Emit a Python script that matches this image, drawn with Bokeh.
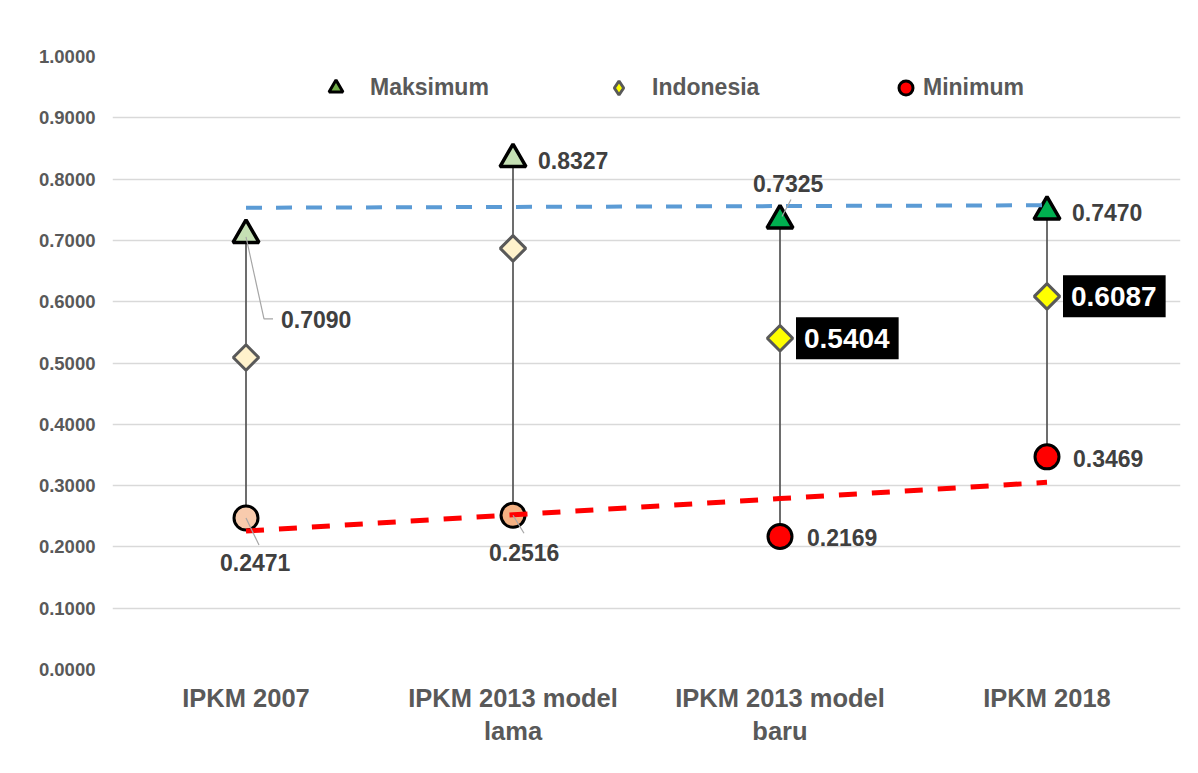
import numpy as np
from bokeh.plotting import figure
from bokeh.models import (ColumnDataSource, FactorRange, Range1d, Legend, LegendItem,
                          FixedTicker, PrintfTickFormatter, BoxAnnotation)
from bokeh.core.properties import value
from bokeh.embed import file_html
from bokeh.resources import INLINE

# ---------------- data ----------------
categories = ["IPKM 2007", "IPKM 2013 model\nlama", "IPKM 2013 model\nbaru", "IPKM 2018"]
maksimum = [0.7090, 0.8327, 0.7325, 0.7470]
indonesia = [0.5090, 0.6870, 0.5404, 0.6087]
minimum = [0.2471, 0.2516, 0.2169, 0.3469]
y_ticks = [0.0, 0.1, 0.2, 0.3, 0.4, 0.5, 0.6, 0.7, 0.8, 0.9, 1.0]
series_names = ["Maksimum", "Indonesia", "Minimum"]

# ---------------- styles ----------------
max_colors = ["#C5E0B4", "#C5E0B4", "#00B050", "#00B050"]
ind_colors = ["#FFF2CC", "#FFF2CC", "#FFFF00", "#FFFF00"]
min_colors = ["#F8CBAD", "#F4B183", "#FF0000", "#FF0000"]
FONT = "Liberation Sans"
LBL = "#404040"

# label offsets (screen px)
max_dx = [35, 25, -27, 25]
max_dy = [85, 1, -37, 1]
min_dx = [-26, -24, 27, 26]
min_dy = [44, 37, 1, 2]

W, H = 1196, 771
ML, MR, MT, MB = 112, 16, 56, 102
band = (W - ML - MR) / len(categories)
pxy = 1.0 / (H - MT - MB)

p = figure(x_range=FactorRange(factors=categories, range_padding=0),
           y_range=Range1d(0, 1.0), width=W, height=H,
           output_backend="svg", toolbar_location=None,
           min_border_left=ML, min_border_right=MR, min_border_top=MT, min_border_bottom=MB)
p.outline_line_color = None
p.background_fill_color = "white"
p.xgrid.grid_line_color = None
p.ygrid.grid_line_color = "#D9D9D9"
p.ygrid.grid_line_width = 1.5

# chart-area border
p.add_layout(BoxAnnotation(left=8, right=W + 2, top=13, bottom=H + 4,
                           left_units="canvas", right_units="canvas",
                           top_units="canvas", bottom_units="canvas",
                           fill_alpha=0, line_color="#D9D9D9", line_width=1.5,
                           editable=False))

p.yaxis.ticker = FixedTicker(ticks=y_ticks)
p.yaxis.formatter = PrintfTickFormatter(format="%.4f")
for ax in (p.xaxis, p.yaxis):
    ax.axis_line_color = None
    ax.major_tick_line_color = None
    ax.minor_tick_line_color = None
    ax.major_tick_out = 0
    ax.major_label_text_font = FONT
    ax.major_label_text_font_style = "bold"
    ax.major_label_text_color = "#595959"
p.yaxis.major_label_text_font_size = "18.5px"
p.yaxis.major_label_standoff = 17
p.xaxis.major_label_text_font_size = "25.5px"
p.xaxis.major_label_standoff = 14
p.xaxis.major_label_text_line_height = 1.2

src = ColumnDataSource(dict(cat=categories, mx=maksimum, ind=indonesia, mn=minimum,
                            mxc=max_colors, indc=ind_colors, mnc=min_colors,
                            mxt=[f"{v:.4f}" for v in maksimum],
                            mnt=[f"{v:.4f}" for v in minimum],
                            mxdx=max_dx, mxdy=max_dy, mndx=min_dx, mndy=min_dy))

p.segment(x0="cat", y0="mn", x1="cat", y1="mx", source=src,
          line_color="#595959", line_width=1.75)
p.scatter("cat", "mn", marker="circle", size=24, fill_color="mnc",
          line_color="black", line_width=3, source=src)
p.scatter("cat", "ind", marker="square", angle=np.pi / 4, size=18, fill_color="indc",
          line_color="#595959", line_width=3, source=src)
p.scatter("cat", "mx", marker="triangle", size=26, fill_color="mxc",
          line_color="black", line_width=3.5, source=src)

# linear trendlines
xi = np.arange(1, len(categories) + 1)
trend_max = np.polyval(np.polyfit(xi, maksimum, 1), xi)
trend_min = np.polyval(np.polyfit(xi, minimum, 1), xi)
p.line(categories, trend_max, line_color="#5B9BD5", line_width=4, line_dash="16 14")
p.line(categories, trend_min, line_color="#FF0000", line_width=5, line_dash="18 15")

# leader lines (offsets in px converted to axis units)
leaders_x, leaders_y = [], []
def leader(i, val, pts):
    leaders_x.append([i + 0.5 + dx / band for dx, dy in pts])
    leaders_y.append([val - dy * pxy for dx, dy in pts])
leader(0, maksimum[0], [(0, 2), (18, 84), (27, 84)])
leader(2, maksimum[2], [(2, -4), (11, -21)])
leader(0, minimum[0], [(0, 0), (13, 27)])
leader(1, minimum[1], [(0, 0), (11, 18)])
p.multi_line(leaders_x, leaders_y, line_color="#A6A6A6", line_width=1.2)

# data labels
p.text(x="cat", y="mx", text="mxt", x_offset="mxdx", y_offset="mxdy", source=src,
       text_font=value(FONT), text_font_style="bold", text_font_size="23px",
       text_color=LBL, text_align="left", text_baseline="middle")
p.text(x="cat", y="mn", text="mnt", x_offset="mndx", y_offset="mndy", source=src,
       text_font=value(FONT), text_font_style="bold", text_font_size="23px",
       text_color=LBL, text_align="left", text_baseline="middle")
isrc = ColumnDataSource(dict(cat=categories[2:], ind=indonesia[2:],
                             t=[f"{v:.4f}" for v in indonesia[2:]]))
p.text(x="cat", y="ind", text="t", x_offset=16, y_offset=0, source=isrc,
       text_font=value(FONT), text_font_style="bold", text_font_size="28px",
       text_color="white", text_align="left", text_baseline="middle",
       background_fill_color="black",
       padding=dict(left=8, right=9, top=12, bottom=11))

# legend proxies (not drawn: NaN value), one legend per entry
nan = [float("nan")]
lg_max = p.scatter(x=categories[:1], y=nan, marker="triangle", fill_color="#70AD47",
                   line_color="black", line_width=3)
lg_ind = p.scatter(x=categories[:1], y=nan, marker="diamond",
                   fill_color="#FFFF00", line_color="#595959", line_width=3)
lg_min = p.scatter(x=categories[:1], y=nan, marker="circle", fill_color="#FF0000",
                   line_color="black", line_width=3)

# (glyph centre x in frame px, label standoff)
legend_pos = [(223, 17), (506, 16), (793, 0)]
GW = 35
frame_bottom = H - MB
legend_cy = 88
for name, r, (cx, stand) in zip(series_names, [lg_max, lg_ind, lg_min], legend_pos):
    lg = Legend(items=[LegendItem(label=name, renderers=[r])],
                orientation="horizontal",
                location=(cx - GW // 2, frame_bottom - legend_cy - GW // 2),
                glyph_width=GW, glyph_height=GW, label_standoff=stand,
                spacing=0, padding=0, margin=0, border_line_color=None,
                background_fill_alpha=0, label_text_font=FONT,
                label_text_font_style="bold", label_text_font_size="23px",
                label_text_color="#595959")
    p.add_layout(lg)

open("out.html", "w").write(file_html(p, INLINE))
